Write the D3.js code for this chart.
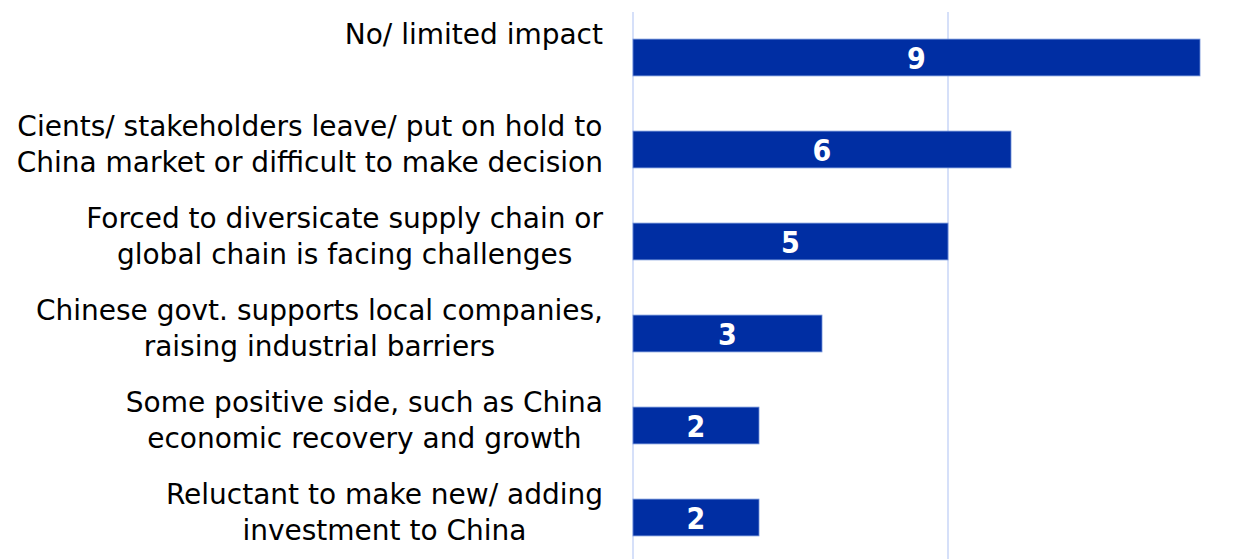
<!DOCTYPE html>
<html>
<head>
<meta charset="utf-8">
<script src="https://cdn.jsdelivr.net/npm/d3@7"></script>
<style>
  body { margin: 0; background: #fff; }
  svg { display: block; }
  .cat-label { font-family: "DejaVu Sans", sans-serif; font-size: 28px; fill: #000; }
  .val-label { font-family: "DejaVu Sans Condensed", "DejaVu Sans", sans-serif; font-size: 30px; font-weight: bold; fill: #fff; }
</style>
</head>
<body>
<div id="chart"></div>
<script>
// categories, one entry per line of the label
const categories = [
    ["No/ limited impact"],
    ["Cients/ stakeholders leave/ put on hold to", "China market or difficult to make decision"],
    ["Forced to diversicate supply chain or", "global chain is facing challenges"],
    ["Chinese govt. supports local companies,", "raising industrial barriers"],
    ["Some positive side, such as China", "economic recovery and growth"],
    ["Reluctant to make new/ adding", "investment to China"]
];
const values = [9, 6, 5, 3, 2, 2];
const gridTicks = [0, 5, 10];

let width = 1250,
    height = 559;

let svg = d3.select("#chart")
    .append("svg")
    .attr("width", width)
    .attr("height", height);

let x = d3.scaleLinear()
    .domain([0, 10])
    .range([633, 1263]);   // the 10 line falls off the right edge, like the original

let y = d3.scaleBand()
    .domain(d3.range(values.length))
    .range([11.5, 563.5])
    .paddingInner(0.6)
    .paddingOuter(0.3);

// gridlines
svg.append("g")
    .selectAll("line")
    .data(gridTicks)
    .enter().append("line")
    .attr("x1", d => x(d))
    .attr("x2", d => x(d))
    .attr("y1", 12)
    .attr("y2", height)
    .attr("stroke", "#c8d6f7")
    .attr("stroke-width", 1.5);

// bars
svg.append("g")
    .selectAll("rect")
    .data(values)
    .enter().append("rect")
    .attr("x", x(0))
    .attr("y", (d, i) => y(i))
    .attr("width", d => x(d) - x(0))
    .attr("height", y.bandwidth())
    .attr("fill", "#002ea3")
    .attr("stroke", "#6f8fd8")
    .attr("stroke-width", 0.8);

// value labels
svg.append("g")
    .selectAll("text")
    .data(values)
    .enter().append("text")
    .attr("class", "val-label")
    .attr("x", d => (x(0) + x(d)) / 2)
    .attr("y", (d, i) => y(i) + y.bandwidth() / 2 + 11)
    .attr("text-anchor", "middle")
    .text(d => d);

// category labels: lines centred on each other, block right aligned
let labelRight = 603,
    lineGap = 36;

categories.forEach(function(lines, i) {
    let g = svg.append("g");
    let texts = g.selectAll("text")
        .data(lines)
        .enter().append("text")
        .attr("class", "cat-label")
        .attr("y", (d, j) => y(i) + y.bandwidth() / 2 - 13.5 + j * lineGap)
        .attr("text-anchor", "middle")
        .text(d => d);
    let maxW = d3.max(texts.nodes(), n => n.getComputedTextLength());
    texts.attr("x", labelRight - maxW / 2);
});
</script>
</body>
</html>
